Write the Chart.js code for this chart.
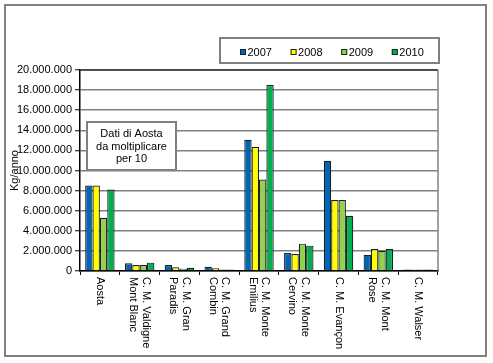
<!DOCTYPE html>
<html>
<head>
<meta charset="utf-8">
<script src="https://cdn.jsdelivr.net/npm/chart.js@4"></script>
<style>
  html, body { margin: 0; padding: 0; background: #fff; }
  #wrap { width: 493px; height: 363px; position: relative; }
</style>
</head>
<body>
<div id="wrap"><canvas id="chart" width="493" height="363"></canvas></div>
<script>
// data (kg/anno)
const categories = [
  ["Aosta"],
  ["C. M. Valdigne", "Mont Blanc"],
  ["C. M. Gran", "Paradis"],
  ["C. M. Grand", "Combin"],
  ["C. M. Monte", "Emilius"],
  ["C. M. Monte", "Cervino"],
  ["C. M. Evançon"],
  ["C. M. Mont", "Rose"],
  ["C. M. Walser"]
];
const years = ["2007", "2008", "2009", "2010"];
const values2007 = [8500000, 770000, 600000, 430000, 13050000, 1790000, 10970000, 1620000, 150000];
const values2008 = [8500000, 600000, 370000, 270000, 12350000, 1690000, 7060000, 2190000, 150000];
const values2009 = [5300000, 600000, 230000, 150000, 9100000, 2720000, 7060000, 2020000, 150000];
const values2010 = [8100000, 830000, 330000, 150000, 18500000, 2520000, 5500000, 2190000, 150000];
const yTicks = [0, 2000000, 4000000, 6000000, 8000000, 10000000, 12000000, 14000000, 16000000, 18000000, 20000000];
const yTitle = "Kg/anno";
const noteLines = ["Dati di Aosta", "da moltiplicare", "per 10"];

const colors = ["#0066b3", "#ffff00", "#92d050", "#00b050"];
const FONT = "11px 'Liberation Sans', Arial, sans-serif";

function fmt(v) {
  return String(v).replace(/\B(?=(\d{3})+(?!\d))/g, ".");
}

const decor = {
  id: "decor",
  beforeDraw(chart) {
    const ctx = chart.ctx;
    ctx.save();
    ctx.fillStyle = "#fff";
    ctx.fillRect(0, 0, chart.width, chart.height);
    ctx.restore();
  },
  afterDraw(chart) {
    const ctx = chart.ctx;
    const area = chart.chartArea;
    const x = chart.scales.x;
    ctx.save();

    // outer frame
    ctx.strokeStyle = "#808080";
    ctx.lineWidth = 2;
    ctx.strokeRect(5, 5, 481, 351);

    // plot frame top / right
    ctx.lineWidth = 1.5;
    ctx.strokeStyle = "#333";
    ctx.beginPath();
    ctx.moveTo(area.left, area.top);
    ctx.lineTo(area.right, area.top);
    ctx.stroke();
    ctx.strokeStyle = "#808080";
    ctx.beginPath();
    ctx.moveTo(area.right, area.top);
    ctx.lineTo(area.right, area.bottom);
    ctx.stroke();

    ctx.font = FONT;
    ctx.fillStyle = "#000";

    // x labels, rotated clockwise
    categories.forEach((lines, i) => {
      const cx = x.getPixelForValue(i);
      ctx.save();
      ctx.translate(cx, area.bottom + 6);
      ctx.rotate(Math.PI / 2);
      ctx.textAlign = "left";
      ctx.textBaseline = "middle";
      lines.forEach((t, j) => {
        ctx.fillText(t, 0, (j - (lines.length - 1) / 2) * 12.5);
      });
      ctx.restore();
    });

    // y title
    ctx.save();
    ctx.translate(15, (area.top + area.bottom) / 2);
    ctx.rotate(-Math.PI / 2);
    ctx.textAlign = "center";
    ctx.textBaseline = "middle";
    ctx.fillText(yTitle, 0, 0);
    ctx.restore();

    // note box
    ctx.fillStyle = "#fff";
    ctx.fillRect(87, 122, 89, 48);
    ctx.strokeStyle = "#808080";
    ctx.lineWidth = 2;
    ctx.strokeRect(87, 122, 89, 48);
    ctx.fillStyle = "#000";
    ctx.textAlign = "center";
    ctx.textBaseline = "middle";
    noteLines.forEach((t, j) => ctx.fillText(t, 131.5, 134 + j * 12.5));

    // legend box
    ctx.fillStyle = "#fff";
    ctx.fillRect(220, 38, 219, 25);
    ctx.strokeStyle = "#808080";
    ctx.strokeRect(220, 38, 219, 25);
    ctx.textAlign = "left";
    chart.data.datasets.forEach((ds, i) => {
      const lx = 240 + i * 50.6;
      ctx.fillStyle = ds.backgroundColor;
      ctx.fillRect(lx, 49, 6, 6);
      ctx.strokeStyle = "#222";
      ctx.lineWidth = 1;
      ctx.strokeRect(lx + 0.5, 49.5, 5, 5);
      ctx.fillStyle = "#000";
      ctx.fillText(ds.label, lx + 7.5, 52.5);
    });

    ctx.restore();
  }
};

const seriesValues = [values2007, values2008, values2009, values2010];

new Chart(document.getElementById("chart"), {
  type: "bar",
  data: {
    labels: categories.map((c) => c.join(" ")),
    datasets: years.map((y, i) => ({
      label: y,
      data: seriesValues[i],
      backgroundColor: colors[i],
      borderColor: "#1e1e1e",
      borderWidth: 1.2,
      borderSkipped: "bottom",
      barPercentage: 1,
      categoryPercentage: 0.74
    }))
  },
  options: {
    responsive: false,
    animation: false,
    events: [],
    layout: { padding: { top: 70, right: 55, bottom: 0, left: 0 } },
    plugins: { legend: { display: false }, tooltip: { enabled: false } },
    scales: {
      x: {
        afterFit: (s) => { s.height = 92; },
        ticks: { display: false },
        grid: {
          offset: true,
          drawOnChartArea: false,
          tickLength: 4,
          tickColor: "#000",
          tickWidth: 1
        },
        border: { color: "#000", width: 1.5 }
      },
      y: {
        min: 0,
        max: 20000000,
        afterFit: (s) => { s.width = 80; },
        afterBuildTicks: (s) => { s.ticks = yTicks.map((v) => ({ value: v })); },
        ticks: {
          color: "#000",
          font: { family: "'Liberation Sans', Arial, sans-serif", size: 11 },
          padding: 3,
          callback: (v) => fmt(v)
        },
        grid: {
          color: "#808080",
          lineWidth: 1.5,
          tickLength: 5,
          tickColor: "#000",
          tickWidth: 1
        },
        border: { color: "#000", width: 1.5 }
      }
    }
  },
  plugins: [decor]
});
</script>
</body>
</html>
